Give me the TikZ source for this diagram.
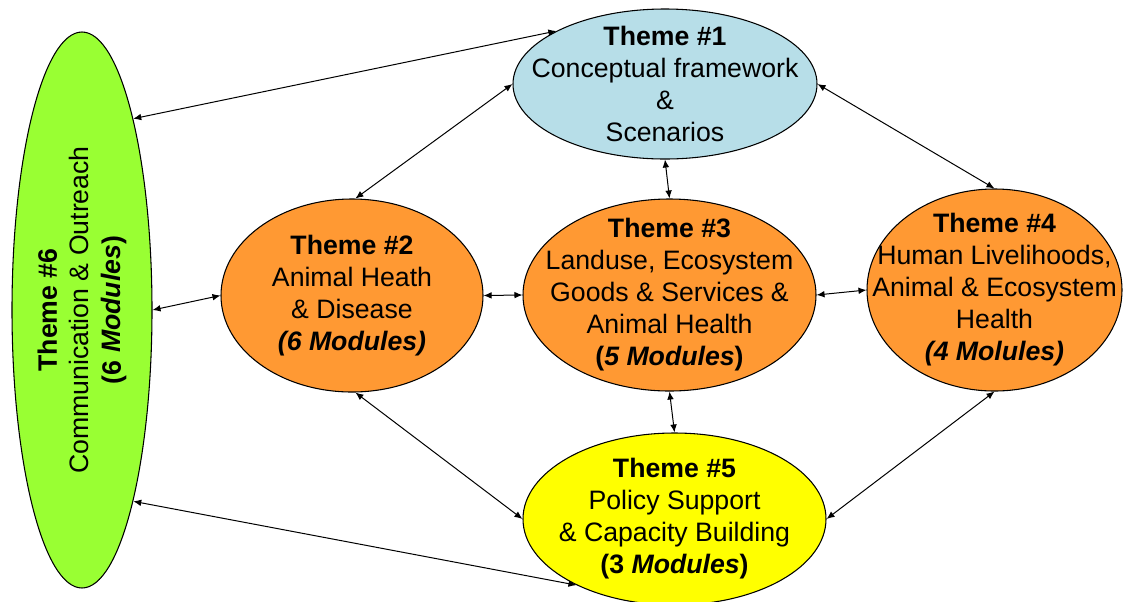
\documentclass[tikz,border=0pt]{standalone}
\usepackage{fontspec}
\setmainfont{Liberation Sans}
\usetikzlibrary{shapes.geometric,arrows.meta}
\definecolor{themeblue}{HTML}{B7DEE8}
\definecolor{themeorange}{HTML}{FF9933}
\definecolor{themeyellow}{HTML}{FFFF00}
\definecolor{themegreen}{HTML}{99FF33}

\begin{document}
\begin{tikzpicture}[x=0.75pt, y=-0.75pt, theme/.style={draw, ellipse, line width=0.8pt, inner sep=0pt},%
        txt/.style={align=center, font=\fontsize{20}{24}\selectfont}, link/.style={<->, >={Latex[length=6pt,width=5pt]}, line width=0.75pt}]
    \useasboundingbox (0,0) rectangle (1124,601);
    \node[theme, fill=themeblue, minimum width=228pt, minimum height=112.5pt] (t1) at (665,84) {};
    \node[theme, fill=themeorange, minimum width=196.5pt, minimum height=144.75pt] (t2) at (352,295.5) {};
    \node[theme, fill=themeorange, minimum width=219.75pt, minimum height=144pt] (t3) at (669.5,295) {};
    \node[theme, fill=themeorange, minimum width=191.25pt, minimum height=151.5pt] (t4) at (994.5,290) {};
    \node[theme, fill=themeyellow, minimum width=227.25pt, minimum height=129pt] (t5) at (674.5,519) {};
    \node[theme, fill=themegreen, minimum width=105pt, minimum height=417pt] (t6) at (82,310) {};
    % texts
    \node[txt] (t1-txt) at (t1) {\textbf{Theme \#1}\\Conceptual framework\\\&\\Scenarios};
    \node[txt] (t2-txt) at (t2) {\textbf{Theme \#2}\\Animal Heath\\\& Disease\\\textbf{\textit{(6 Modules)}}};
    \node[txt] (t3-txt) at (t3) {\textbf{Theme \#3}\\Landuse, Ecosystem\\Goods \& Services \&\\Animal Health\\\textbf{(\textit{5 Modules})}};
    \node[txt] (t4-txt) at (t4) {\textbf{Theme \#4}\\Human Livelihoods,\\Animal \& Ecosystem\\Health\\\textbf{\textit{(4 Molules)}}};
    \node[txt] (t5-txt) at (t5) {\textbf{Theme \#5}\\Policy Support\\\& Capacity Building\\\textbf{(3 \textit{Modules})}};
    \node[txt, rotate=90] (t6-txt) at (t6) {\textbf{Theme \#6}\\Communication \& Outreach\\\textbf{(6 \textit{Modules})}};
    % links
    \draw[link] (t6.75) -- (t1.154);
    \draw[link] (t1.west) -- (t2.88);
    \draw[link] (t1.south) -- (t3.north);
    \draw[link] (t1.east) -- (t4.north);
    \draw[link] (t6.east) -- (t2.west);
    \draw[link] (t2.east) -- (t3.west);
    \draw[link] (t3.east) -- (t4.west);
    \draw[link] (t3.south) -- (t5.north);
    \draw[link] (t2.272) -- (t5.west);
    \draw[link] (t4.south) -- (t5.east);
    \draw[link] (t6.285) -- (t5.214);
\end{tikzpicture}
\end{document}
